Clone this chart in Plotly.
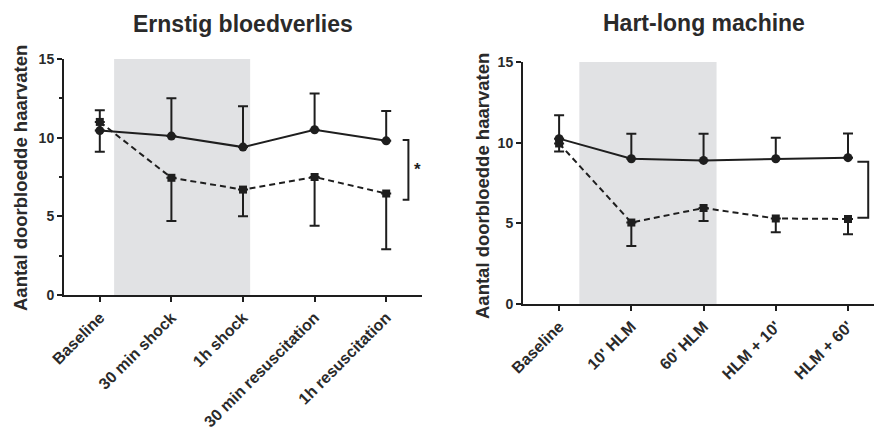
import plotly.graph_objects as go

# ---------------- data ----------------
cats_left = ["Baseline", "30 min shock", "1h shock", "30 min resuscitation", "1h resuscitation"]
solid_left = [10.45, 10.1, 9.4, 10.5, 9.8]
solid_left_up = [1.3, 2.4, 2.6, 2.3, 1.9]
dashed_left = [11.0, 7.45, 6.7, 7.5, 6.45]
dashed_left_down = [1.9, 2.75, 1.7, 3.1, 3.55]

cats_right = ["Baseline", "10' HLM", "60' HLM", "HLM + 10'", "HLM + 60'"]
solid_right = [10.25, 9.0, 8.9, 9.0, 9.07]
solid_right_up = [1.45, 1.55, 1.65, 1.3, 1.5]
dashed_right = [9.95, 5.05, 5.95, 5.3, 5.27]
dashed_right_down = [0.5, 1.45, 0.8, 0.85, 0.95]

y_ticks = [0, 5, 10, 15]
titles = ["Ernstig bloedverlies", "Hart-long machine"]
y_title = "Aantal doorbloedde haarvaten"

W, H = 874, 434
INK = "#1e1e1e"
TXT = "#2a2a2a"
FONT = "Liberation Sans, Arial, sans-serif"

fig = go.Figure()

def add_panel(xa, ya, cats, s, s_up, d, d_down):
    xs = list(range(len(cats)))
    fig.add_trace(go.Scatter(
        x=xs, y=d, xaxis=xa, yaxis=ya, mode="lines+markers",
        line=dict(color=INK, width=2, dash="6px,4px"),
        marker=dict(symbol="square", size=8, color=INK),
        error_y=dict(type="data", symmetric=False, array=[0]*len(d), arrayminus=d_down,
                     color=INK, thickness=2, width=5),
        showlegend=False, cliponaxis=False))
    fig.add_trace(go.Scatter(
        x=xs, y=s, xaxis=xa, yaxis=ya, mode="lines+markers",
        line=dict(color=INK, width=2),
        marker=dict(symbol="circle", size=9, color=INK),
        error_y=dict(type="data", symmetric=False, array=s_up, arrayminus=[0]*len(s),
                     color=INK, thickness=2, width=5),
        showlegend=False, cliponaxis=False))

add_panel("x", "y", cats_left, solid_left, solid_left_up, dashed_left, dashed_left_down)
add_panel("x2", "y2", cats_right, solid_right, solid_right_up, dashed_right, dashed_right_down)

def px_x(p):
    return p / W

def px_y(p):
    return (H - p) / H

xtick_font = dict(family=FONT, size=16, color=TXT, weight="bold")
ytick_font = dict(family=FONT, size=14, color=TXT, weight="bold")

axis_common = dict(showline=True, linecolor=INK, linewidth=2, ticks="outside",
                   tickcolor=INK, tickwidth=2, ticklen=5, showgrid=False, zeroline=False,
                   automargin=False)

fig.update_layout(
    width=W, height=H, margin=dict(l=0, r=0, t=0, b=0, autoexpand=False),
    paper_bgcolor="white", plot_bgcolor="white", hovermode=False,
    xaxis=dict(domain=[px_x(64), px_x(422)], range=[-0.5, 4.5], anchor="y",
               tickvals=list(range(5)), ticktext=cats_left, tickangle=-45,
               tickfont=xtick_font, **axis_common),
    yaxis=dict(domain=[px_y(295), px_y(59)], range=[0, 15], anchor="x",
               tickvals=y_ticks, tickfont=ytick_font,
               minor=dict(ticks="outside", dtick=2.5, ticklen=3, tickcolor=INK, tickwidth=1.5),
               **axis_common),
    xaxis2=dict(domain=[px_x(523), 1.0], range=[-0.5, 4.36], anchor="y2",
                tickvals=list(range(5)), ticktext=cats_right, tickangle=-45,
                tickfont=xtick_font, **axis_common),
    yaxis2=dict(domain=[px_y(304), px_y(62)], range=[0, 15], anchor="x2",
                tickvals=y_ticks, tickfont=ytick_font, **axis_common),
)

# Shaded intervention periods
fig.add_shape(type="rect", xref="x", yref="y", x0=0.2, x1=2.1, y0=0, y1=15,
              fillcolor="#e1e2e4", line_width=0, layer="below")
fig.add_shape(type="rect", xref="x2", yref="y2", x0=0.28, x1=2.18, y0=0, y1=15,
              fillcolor="#e1e2e4", line_width=0, layer="below")

# Significance brackets (spanning last values of both series)
def bracket(xr, yr, x0, x1, ytop, ybot):
    fig.add_shape(type="path", xref=xr, yref=yr,
                  path=f"M {x0},{ytop} L {x1},{ytop} L {x1},{ybot} L {x0},{ybot}",
                  line=dict(color=INK, width=2))

bracket("x", "y", 4.23, 4.31, solid_left[-1] + 0.05, dashed_left[-1] - 0.4)
bracket("x2", "y2", 4.13, 4.28, solid_right[-1] - 0.25, dashed_right[-1] + 0.08)
fig.add_annotation(xref="x", yref="y", x=4.44, y=(solid_left[-1] + dashed_left[-1] - 0.35) / 2,
                   text="*", showarrow=False, font=dict(family=FONT, size=17, color=INK, weight="bold"),
                   xanchor="center", yanchor="middle")

# Titles
for txt, x, y in [(titles[0], 243, 24), (titles[1], 704, 23)]:
    fig.add_annotation(xref="paper", yref="paper", x=px_x(x), y=px_y(y), text=f"<b>{txt}</b>",
                       showarrow=False, xanchor="center", yanchor="middle",
                       font=dict(family=FONT, size=23, color=TXT))
for x, y in [(20, 178), (482, 186)]:
    fig.add_annotation(xref="paper", yref="paper", x=px_x(x), y=px_y(y), text=y_title, textangle=-90,
                       showarrow=False, xanchor="center", yanchor="middle",
                       font=dict(family=FONT, size=18.5, color=TXT, weight="bold"))

fig.write_html("out.html", config={"displayModeBar": False},
               post_script="document.body.style.margin='0';document.body.style.overflow='hidden';")
